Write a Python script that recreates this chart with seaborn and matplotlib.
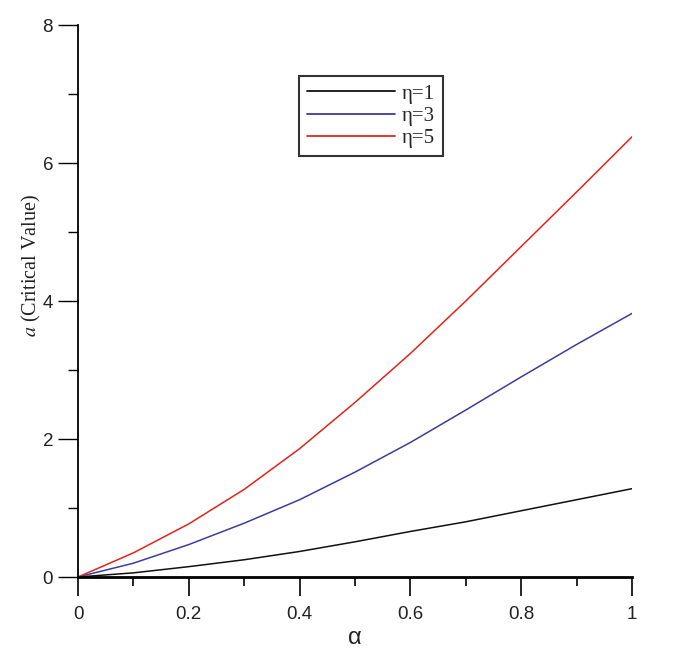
import matplotlib
matplotlib.use("Agg")
import matplotlib.pyplot as plt
import seaborn as sns
import pandas as pd
from matplotlib.ticker import MultipleLocator

alpha = [0.0, 0.1, 0.2, 0.3, 0.4, 0.5, 0.6, 0.7, 0.8, 0.9, 1.0]
eta1 = [0.0, 0.06, 0.15, 0.25, 0.37, 0.51, 0.66, 0.80, 0.96, 1.12, 1.28]
eta3 = [0.0, 0.20, 0.47, 0.78, 1.12, 1.52, 1.95, 2.42, 2.90, 3.37, 3.82]
eta5 = [0.0, 0.35, 0.77, 1.27, 1.86, 2.53, 3.24, 4.00, 4.79, 5.58, 6.38]
labels = ["η=1", "η=3", "η=5"]
colors = ["#111111", "#3c3c9c", "#e5231b"]
xticks = [0, 0.2, 0.4, 0.6, 0.8, 1.0]
xticklabels = ["0", "0.2", "0.4", "0.6", "0.8", "1"]
yticks = [0, 2, 4, 6, 8]
yticklabels = ["0", "2", "4", "6", "8"]

df = pd.concat([
    pd.DataFrame({"alpha": alpha, "a": v, "series": lab})
    for v, lab in zip([eta1, eta3, eta5], labels)
])

sns.set_theme(style="ticks")
plt.rcParams["font.family"] = ["Liberation Sans", "DejaVu Sans"]
plt.rcParams["mathtext.fontset"] = "stix"

fig = plt.figure(figsize=(6.85, 6.63), dpi=100)
ax = fig.add_axes([78/685, 1-577/663, (632-78)/685, (577-25)/663])

sns.lineplot(data=df, x="alpha", y="a", hue="series", palette=colors,
             hue_order=labels, linewidth=1.1, ax=ax, legend=True)

ax.set_xlim(0, 1)
ax.set_ylim(0, 8)
ax.set_xticks(xticks)
ax.set_xticklabels(xticklabels)
ax.set_yticks(yticks)
ax.set_yticklabels(yticklabels)
ax.xaxis.set_minor_locator(MultipleLocator(0.1))
ax.yaxis.set_minor_locator(MultipleLocator(1))
ax.tick_params(axis="x", which="major", direction="out", length=14, width=1.2,
               labelsize=13.5, color="black", labelcolor="#222222", pad=7)
ax.tick_params(axis="y", which="major", direction="out", length=14.4, width=1.0,
               labelsize=13.5, color="black", labelcolor="#222222", pad=3.6)
ax.tick_params(axis="x", which="minor", direction="out", length=6.5, width=1.2, color="black")
ax.tick_params(axis="y", which="minor", direction="out", length=7.2, width=1.0, color="black")

for s in ["top", "right"]:
    ax.spines[s].set_visible(False)
ax.spines["left"].set_linewidth(1.3)
ax.spines["bottom"].set_linewidth(2.0)
ax.spines["left"].set_color("black")
ax.spines["bottom"].set_color("black")

ax.set_xlabel("α", fontsize=17, color="#222222")
ax.xaxis.set_label_coords(0.5, -0.09)
ax.set_ylabel(r"$\mathit{a}$ (Critical Value)", fontsize=14.5,
              family=["Liberation Serif"], color="#222222")
ax.yaxis.set_label_coords(-0.064, 0.565)

leg = ax.legend(loc="center", bbox_to_anchor=(0.529, 0.835), frameon=True,
                fancybox=False, edgecolor="black", handlelength=4.2,
                prop={"family": "Liberation Serif", "size": 15},
                borderpad=0.4, labelspacing=0.12, handletextpad=0.35)
leg.get_frame().set_linewidth(1.5)
for line in leg.get_lines():
    line.set_linewidth(1.3)

fig.savefig("out.png", dpi=100)
